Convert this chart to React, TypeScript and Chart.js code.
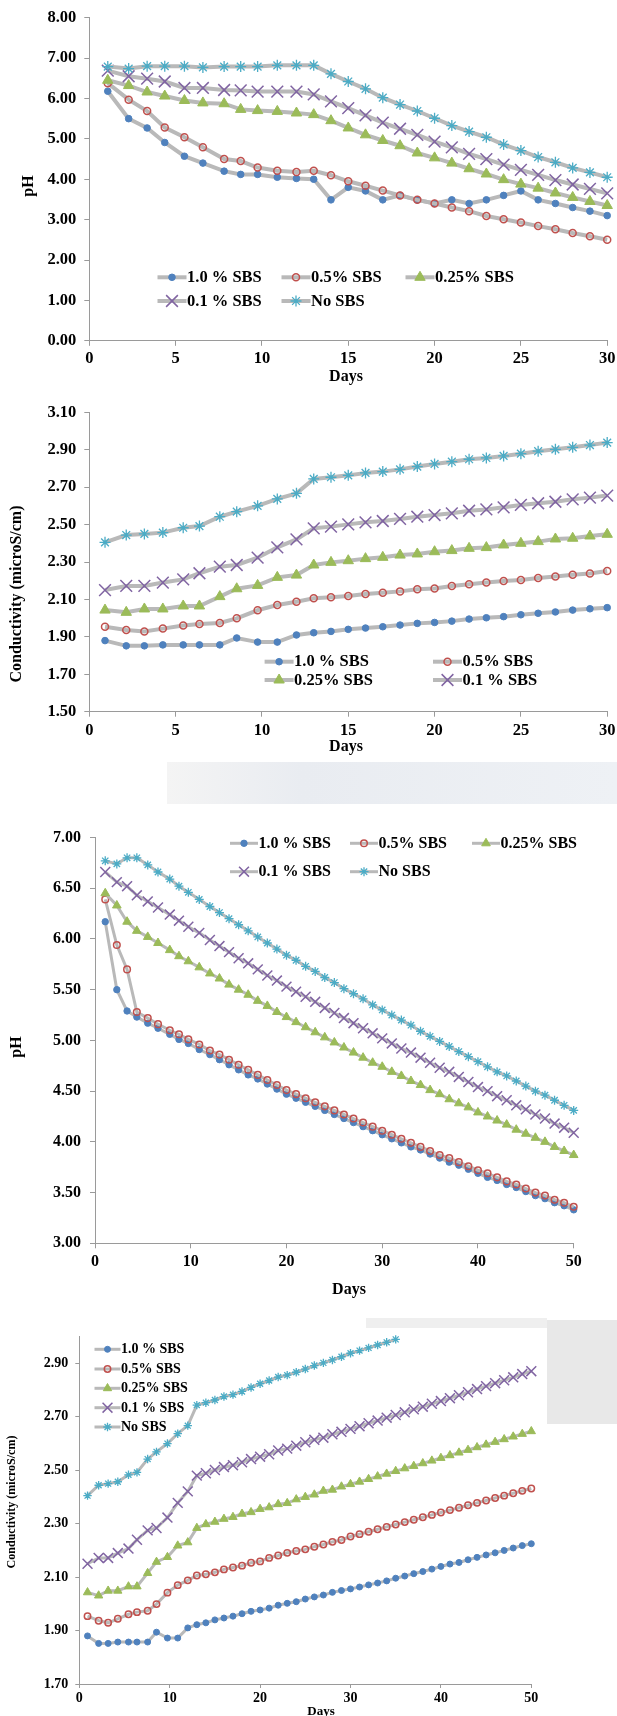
import React, { useEffect, useRef } from 'react';
import { Chart, registerables } from 'chart.js';
import { drawPoint } from 'chart.js/helpers';

Chart.register(...registerables);

const FAMILY = "'Liberation Serif', 'Times New Roman', Times, serif";
const SERIES_NAMES = ['1.0 % SBS', '0.5% SBS', '0.25% SBS', '0.1 % SBS', 'No SBS'];

// ---------- Chart 1: pH over 30 days ----------
const PH30_DAYS = [1.07, 2.28, 3.35, 4.37, 5.51, 6.58, 7.81, 8.77, 9.75, 10.89, 12, 13, 14, 15, 16, 17, 18, 19, 20, 21, 22, 23, 24, 25, 26, 27, 28, 29, 30];
const PH30_SBS_10 = [6.18, 5.5, 5.27, 4.91, 4.57, 4.4, 4.2, 4.12, 4.12, 4.05, 4.02, 4.0, 3.49, 3.8, 3.71, 3.49, 3.6, 3.49, 3.4, 3.49, 3.4, 3.49, 3.6, 3.71, 3.49, 3.4, 3.3, 3.21, 3.1];
const PH30_SBS_05 = [6.38, 5.97, 5.69, 5.28, 5.04, 4.79, 4.5, 4.45, 4.29, 4.21, 4.18, 4.21, 4.1, 3.95, 3.84, 3.72, 3.6, 3.49, 3.4, 3.3, 3.21, 3.09, 3.01, 2.93, 2.84, 2.76, 2.67, 2.59, 2.5];
const PH30_SBS_025 = [6.45, 6.32, 6.16, 6.06, 5.95, 5.89, 5.87, 5.73, 5.7, 5.68, 5.64, 5.6, 5.45, 5.27, 5.1, 4.96, 4.83, 4.65, 4.53, 4.4, 4.26, 4.13, 3.99, 3.88, 3.78, 3.66, 3.55, 3.45, 3.35];
const PH30_SBS_01 = [6.69, 6.55, 6.49, 6.42, 6.26, 6.26, 6.21, 6.2, 6.17, 6.17, 6.17, 6.1, 5.93, 5.76, 5.58, 5.4, 5.25, 5.1, 4.93, 4.79, 4.63, 4.5, 4.36, 4.23, 4.11, 3.98, 3.87, 3.76, 3.65];
const PH30_NO_SBS = [6.79, 6.74, 6.8, 6.8, 6.8, 6.77, 6.79, 6.79, 6.79, 6.82, 6.82, 6.82, 6.61, 6.42, 6.24, 6.02, 5.85, 5.69, 5.51, 5.33, 5.18, 5.04, 4.86, 4.71, 4.55, 4.42, 4.28, 4.17, 4.05];
const PH30_Y_TICKS = [0, 1, 2, 3, 4, 5, 6, 7, 8];
const DAYS30_TICKS = [0, 5, 10, 15, 20, 25, 30];

// ---------- Chart 2: conductivity over 30 days ----------
const COND30_DAYS = [0.91, 2.14, 3.19, 4.26, 5.44, 6.38, 7.56, 8.54, 9.75, 10.89, 12, 13, 14, 15, 16, 17, 18, 19, 20, 21, 22, 23, 24, 25, 26, 27, 28, 29, 30];
const COND30_SBS_10 = [1.88, 1.852, 1.852, 1.857, 1.857, 1.857, 1.857, 1.894, 1.872, 1.872, 1.91, 1.922, 1.929, 1.94, 1.947, 1.954, 1.963, 1.972, 1.977, 1.984, 1.995, 2.002, 2.008, 2.018, 2.026, 2.033, 2.043, 2.05, 2.056];
const COND30_SBS_05 = [1.954, 1.937, 1.929, 1.944, 1.961, 1.969, 1.974, 1.999, 2.042, 2.07, 2.088, 2.106, 2.111, 2.118, 2.129, 2.136, 2.143, 2.154, 2.159, 2.172, 2.181, 2.191, 2.198, 2.204, 2.214, 2.222, 2.232, 2.239, 2.252];
const COND30_SBS_025 = [2.043, 2.031, 2.049, 2.049, 2.065, 2.065, 2.115, 2.157, 2.175, 2.218, 2.23, 2.284, 2.298, 2.307, 2.318, 2.325, 2.337, 2.343, 2.355, 2.361, 2.373, 2.377, 2.391, 2.4, 2.409, 2.423, 2.427, 2.439, 2.448];
const COND30_SBS_01 = [2.15, 2.172, 2.172, 2.19, 2.207, 2.24, 2.275, 2.284, 2.323, 2.378, 2.421, 2.48, 2.489, 2.501, 2.512, 2.519, 2.53, 2.542, 2.551, 2.56, 2.574, 2.581, 2.592, 2.605, 2.614, 2.622, 2.635, 2.644, 2.655];
const COND30_NO_SBS = [2.405, 2.444, 2.45, 2.457, 2.483, 2.492, 2.542, 2.569, 2.6, 2.637, 2.667, 2.744, 2.753, 2.763, 2.776, 2.783, 2.795, 2.81, 2.824, 2.836, 2.849, 2.856, 2.867, 2.879, 2.892, 2.902, 2.913, 2.925, 2.938];
const COND30_Y_TICKS = [1.5, 1.7, 1.9, 2.1, 2.3, 2.5, 2.7, 2.9, 3.1];

// ---------- Chart 3: pH over 50 days ----------
const PH50_DAYS = [1.07, 2.28, 3.35, 4.37, 5.51, 6.58, 7.81, 8.77, 9.75, 10.89, 12, 13, 14, 15, 16, 17, 18, 19, 20, 21, 22, 23, 24, 25, 26, 27, 28, 29, 30, 31, 32, 33, 34, 35, 36, 37, 38, 39, 40, 41, 42, 43, 44, 45, 46, 47, 48, 49, 50];
const PH50_SBS_10 = [6.17, 5.5, 5.29, 5.23, 5.17, 5.12, 5.06, 5.01, 4.97, 4.91, 4.86, 4.81, 4.76, 4.71, 4.66, 4.62, 4.57, 4.52, 4.47, 4.43, 4.39, 4.35, 4.31, 4.27, 4.23, 4.19, 4.15, 4.11, 4.07, 4.03, 3.99, 3.95, 3.92, 3.88, 3.84, 3.8, 3.77, 3.73, 3.69, 3.65, 3.62, 3.58, 3.55, 3.51, 3.47, 3.44, 3.4, 3.37, 3.33];
const PH50_SBS_05 = [6.39, 5.94, 5.7, 5.28, 5.22, 5.16, 5.1, 5.06, 5.01, 4.96, 4.9, 4.86, 4.81, 4.76, 4.71, 4.66, 4.61, 4.56, 4.51, 4.47, 4.43, 4.39, 4.35, 4.31, 4.27, 4.23, 4.19, 4.15, 4.11, 4.07, 4.03, 3.99, 3.95, 3.91, 3.87, 3.84, 3.8, 3.76, 3.72, 3.69, 3.65, 3.61, 3.58, 3.54, 3.5, 3.47, 3.43, 3.4, 3.36];
const PH50_SBS_025 = [6.45, 6.33, 6.17, 6.08, 6.02, 5.96, 5.89, 5.83, 5.78, 5.72, 5.66, 5.61, 5.55, 5.5, 5.45, 5.39, 5.34, 5.28, 5.23, 5.18, 5.13, 5.08, 5.03, 4.98, 4.93, 4.88, 4.83, 4.78, 4.74, 4.69, 4.65, 4.6, 4.56, 4.51, 4.47, 4.42, 4.38, 4.34, 4.29, 4.25, 4.21, 4.17, 4.12, 4.08, 4.04, 4.0, 3.95, 3.91, 3.87];
const PH50_SBS_01 = [6.66, 6.56, 6.52, 6.43, 6.37, 6.31, 6.24, 6.18, 6.12, 6.06, 5.99, 5.93, 5.87, 5.81, 5.76, 5.7, 5.64, 5.59, 5.53, 5.48, 5.43, 5.38, 5.32, 5.27, 5.22, 5.17, 5.12, 5.07, 5.02, 4.97, 4.92, 4.88, 4.83, 4.78, 4.73, 4.69, 4.64, 4.59, 4.54, 4.5, 4.45, 4.41, 4.36, 4.32, 4.27, 4.23, 4.18, 4.14, 4.09];
const PH50_NO_SBS = [6.77, 6.74, 6.8, 6.8, 6.73, 6.66, 6.59, 6.52, 6.46, 6.39, 6.32, 6.26, 6.2, 6.14, 6.08, 6.02, 5.96, 5.9, 5.84, 5.79, 5.73, 5.68, 5.62, 5.57, 5.51, 5.46, 5.41, 5.35, 5.3, 5.25, 5.2, 5.15, 5.09, 5.04, 4.99, 4.94, 4.89, 4.84, 4.79, 4.74, 4.69, 4.65, 4.6, 4.55, 4.5, 4.46, 4.41, 4.36, 4.31];
const PH50_Y_TICKS = [3, 3.5, 4, 4.5, 5, 5.5, 6, 6.5, 7];
const DAYS50_TICKS = [0, 10, 20, 30, 40, 50];

// ---------- Chart 4: conductivity over 50 days ----------
const COND50_DAYS = [0.91, 2.14, 3.19, 4.26, 5.44, 6.38, 7.56, 8.54, 9.75, 10.89, 12, 13, 14, 15, 16, 17, 18, 19, 20, 21, 22, 23, 24, 25, 26, 27, 28, 29, 30, 31, 32, 33, 34, 35, 36, 37, 38, 39, 40, 41, 42, 43, 44, 45, 46, 47, 48, 49, 50];
const COND50_SBS_10 = [...COND30_SBS_10, 2.063, 2.071, 2.078, 2.086, 2.096, 2.104, 2.113, 2.121, 2.13, 2.14, 2.149, 2.155, 2.165, 2.174, 2.183, 2.191, 2.2, 2.209, 2.218, 2.225];
const COND50_SBS_05 = [...COND30_SBS_05, 2.261, 2.27, 2.279, 2.288, 2.297, 2.306, 2.315, 2.324, 2.333, 2.342, 2.351, 2.36, 2.369, 2.378, 2.387, 2.396, 2.405, 2.414, 2.423, 2.432];
const COND50_SBS_025 = [...COND30_SBS_025, 2.457, 2.467, 2.477, 2.487, 2.497, 2.507, 2.516, 2.526, 2.536, 2.546, 2.556, 2.566, 2.576, 2.586, 2.596, 2.606, 2.616, 2.626, 2.636, 2.646];
const COND50_SBS_01 = [...COND30_SBS_01, 2.665, 2.676, 2.686, 2.697, 2.707, 2.717, 2.728, 2.738, 2.749, 2.759, 2.77, 2.781, 2.792, 2.804, 2.815, 2.826, 2.837, 2.848, 2.86, 2.871];
const COND50_NO_SBS = [...COND30_NO_SBS, 2.948, 2.958, 2.969, 2.979, 2.99];
const COND50_Y_TICKS = [1.7, 1.9, 2.1, 2.3, 2.5, 2.7, 2.9];

// ---------- styling ----------
const LINE_GRAY = '#b9b9b9';
const AXIS_GRAY = '#9a9a9a';
const MARKERS = [
  { style: 'circle', fill: '#4f81bd', stroke: '#4f81bd', bw: 1 },
  { style: 'circle', fill: 'rgba(255,255,255,0)', stroke: '#c0504d', bw: 1.5 },
  { style: 'triangle', fill: '#9bbb59', stroke: '#9bbb59', bw: 1 },
  { style: 'crossRot', fill: '#8064a2', stroke: '#8064a2', bw: 1.5 },
  { style: 'star', fill: '#4bacc6', stroke: '#4bacc6', bw: 1.3 },
];

type Item = { i: number; x: number; y: number };
type Spec = {
  top: number; height: number;
  area: { l: number; t: number; r: number; b: number };
  xMin: number; xMax: number; xTicks: number[];
  yMin: number; yMax: number; yTicks: number[];
  series: { xs: number[]; ys: number[] }[];
  lineWidth: number; radii: number[];
  tickSize: number; yTickLen: number; yTickPad: number; xTickLen: number; xTickPad: number;
  yTitle: { text: string; x: number; y: number; size: number };
  xTitle: { text: string; x: number; y: number; size: number };
  legend: { size: number; len: number; items: Item[] };
};

const SPECS: Spec[] = [
  {
    top: 0, height: 392,
    area: { l: 89.3, t: 17.7, r: 609.3, b: 340.8 },
    xMin: 0, xMax: 30, xTicks: DAYS30_TICKS, yMin: 0, yMax: 8, yTicks: PH30_Y_TICKS,
    series: [PH30_SBS_10, PH30_SBS_05, PH30_SBS_025, PH30_SBS_01, PH30_NO_SBS].map((ys) => ({ xs: PH30_DAYS, ys })),
    lineWidth: 4, radii: [3.3, 3.5, 6, 8.3, 5.5],
    tickSize: 16.5, yTickLen: 5, yTickPad: 8, xTickLen: 5, xTickPad: 5,
    yTitle: { text: 'pH', x: 29, y: 186, size: 16 },
    xTitle: { text: 'Days', x: 346, y: 377, size: 16 },
    legend: { size: 16.5, len: 29, items: [
      { i: 0, x: 157.5, y: 277.3 }, { i: 1, x: 281.5, y: 277.3 }, { i: 2, x: 405.5, y: 277.3 },
      { i: 3, x: 157.5, y: 301 }, { i: 4, x: 281.5, y: 301 },
    ] },
  },
  {
    top: 392, height: 408,
    area: { l: 89.3, t: 412.3, r: 609.3, b: 711.7 },
    xMin: 0, xMax: 30, xTicks: DAYS30_TICKS, yMin: 1.5, yMax: 3.1, yTicks: COND30_Y_TICKS,
    series: [COND30_SBS_10, COND30_SBS_05, COND30_SBS_025, COND30_SBS_01, COND30_NO_SBS].map((ys) => ({ xs: COND30_DAYS, ys })),
    lineWidth: 4, radii: [3.3, 3.5, 6, 8.3, 5.5],
    tickSize: 16.5, yTickLen: 5, yTickPad: 8, xTickLen: 5, xTickPad: 5.5,
    yTitle: { text: 'Conductivity (microS/cm)', x: 17, y: 594, size: 16 },
    xTitle: { text: 'Days', x: 346, y: 747, size: 16 },
    legend: { size: 16.5, len: 29, items: [
      { i: 0, x: 264.6, y: 661.7 }, { i: 1, x: 433, y: 661.7 },
      { i: 2, x: 264.6, y: 680 }, { i: 3, x: 433, y: 680 },
    ] },
  },
  {
    top: 800, height: 500,
    area: { l: 95, t: 837.5, r: 573.7, b: 1243.3 },
    xMin: 0, xMax: 50, xTicks: DAYS50_TICKS, yMin: 3, yMax: 7, yTicks: PH50_Y_TICKS,
    series: [PH50_SBS_10, PH50_SBS_05, PH50_SBS_025, PH50_SBS_01, PH50_NO_SBS].map((ys) => ({ xs: PH50_DAYS, ys })),
    lineWidth: 3, radii: [3.2, 3.3, 5, 7, 4.5],
    tickSize: 16, yTickLen: 5, yTickPad: 9, xTickLen: 5, xTickPad: 5.4,
    yTitle: { text: 'pH', x: 17, y: 1047, size: 16 },
    xTitle: { text: 'Days', x: 349, y: 1290, size: 16 },
    legend: { size: 16, len: 28, items: [
      { i: 0, x: 230, y: 843.3 }, { i: 1, x: 350, y: 843.3 }, { i: 2, x: 472, y: 843.3 },
      { i: 3, x: 230, y: 871.7 }, { i: 4, x: 350, y: 871.7 },
    ] },
  },
  {
    top: 1300, height: 416,
    area: { l: 79.3, t: 1336.7, r: 531.3, b: 1684 },
    xMin: 0, xMax: 50, xTicks: DAYS50_TICKS, yMin: 1.7, yMax: 3.0, yTicks: COND50_Y_TICKS,
    series: [COND50_SBS_10, COND50_SBS_05, COND50_SBS_025, COND50_SBS_01, COND50_NO_SBS].map((ys) => ({ xs: COND50_DAYS, ys })),
    lineWidth: 3, radii: [3, 3.2, 4.8, 7, 4.2],
    tickSize: 14, yTickLen: 4, yTickPad: 7, xTickLen: 4, xTickPad: 3,
    yTitle: { text: 'Conductivity (microS/cm)', x: 12, y: 1502, size: 12 },
    xTitle: { text: 'Days', x: 321, y: 1712, size: 13 },
    legend: { size: 14, len: 26, items: [
      { i: 0, x: 94.5, y: 1349.3 }, { i: 1, x: 94.5, y: 1369 }, { i: 2, x: 94.5, y: 1388.3 },
      { i: 3, x: 94.5, y: 1407.7 }, { i: 4, x: 94.5, y: 1427 },
    ] },
  },
];

function makeOverlay(s: Spec) {
  return {
    id: 'overlay',
    afterDraw(chart: any) {
      const ctx = chart.ctx as CanvasRenderingContext2D;
      ctx.save();
      // axis titles
      ctx.fillStyle = '#000';
      ctx.textAlign = 'center';
      ctx.textBaseline = 'middle';
      ctx.font = `bold ${s.yTitle.size}px ${FAMILY}`;
      ctx.save();
      ctx.translate(s.yTitle.x, s.yTitle.y - s.top);
      ctx.rotate(-Math.PI / 2);
      ctx.fillText(s.yTitle.text, 0, 0);
      ctx.restore();
      ctx.font = `bold ${s.xTitle.size}px ${FAMILY}`;
      ctx.fillText(s.xTitle.text, s.xTitle.x, s.xTitle.y - s.top);
      // legend
      ctx.font = `bold ${s.legend.size}px ${FAMILY}`;
      ctx.textAlign = 'left';
      for (const it of s.legend.items) {
        const ds = chart.data.datasets[it.i];
        const y = it.y - s.top;
        ctx.strokeStyle = LINE_GRAY;
        ctx.lineWidth = s.lineWidth;
        ctx.beginPath();
        ctx.moveTo(it.x, y);
        ctx.lineTo(it.x + s.legend.len, y);
        ctx.stroke();
        ctx.fillStyle = ds.pointBackgroundColor;
        ctx.strokeStyle = ds.pointBorderColor;
        ctx.lineWidth = ds.pointBorderWidth;
        drawPoint(ctx, { pointStyle: ds.pointStyle, radius: ds.pointRadius, rotation: 0, borderWidth: ds.pointBorderWidth } as any, it.x + s.legend.len / 2, y);
        ctx.fillStyle = '#000';
        ctx.fillText(SERIES_NAMES[it.i], it.x + s.legend.len + 0.5, y + 0.5);
      }
      ctx.restore();
    },
  };
}

function buildConfig(s: Spec): any {
  const localBottom = s.area.b - s.top;
  const tickFont = { family: FAMILY, size: s.tickSize, weight: 'bold' as const, lineHeight: 1 };
  return {
    type: 'line',
    data: {
      datasets: s.series.map((ser, i) => ({
        label: SERIES_NAMES[i],
        data: ser.ys.map((y, j) => ({ x: ser.xs[j], y })),
        borderColor: LINE_GRAY,
        borderWidth: s.lineWidth,
        tension: 0,
        fill: false,
        pointStyle: MARKERS[i].style,
        pointRadius: s.radii[i],
        pointBackgroundColor: MARKERS[i].fill,
        pointBorderColor: MARKERS[i].stroke,
        pointBorderWidth: MARKERS[i].bw,
        order: 10 - i,
        clip: false,
      })),
    },
    options: {
      responsive: false,
      animation: false,
      devicePixelRatio: 1,
      events: [],
      layout: { padding: { left: 0, top: s.area.t - s.top, right: 617 - s.area.r, bottom: 0 } },
      plugins: { legend: { display: false }, tooltip: { enabled: false } },
      scales: {
        x: {
          type: 'linear',
          min: s.xMin,
          max: s.xMax,
          afterBuildTicks: (sc: any) => { sc.ticks = s.xTicks.map((v) => ({ value: v })); },
          afterFit: (sc: any) => { sc.height = s.height - localBottom; sc.paddingLeft = 0; sc.paddingRight = 0; },
          ticks: { autoSkip: false, maxRotation: 0, color: '#000', font: tickFont, padding: s.xTickPad, callback: (v: any) => String(v) },
          grid: { display: true, drawOnChartArea: false, drawTicks: true, tickLength: s.xTickLen, color: AXIS_GRAY, lineWidth: 1 },
          border: { display: true, color: AXIS_GRAY, width: 1 },
          title: { display: false },
        },
        y: {
          type: 'linear',
          min: s.yMin,
          max: s.yMax,
          afterBuildTicks: (sc: any) => { sc.ticks = s.yTicks.map((v) => ({ value: v })); },
          afterFit: (sc: any) => { sc.width = s.area.l; sc.paddingTop = 0; sc.paddingBottom = 0; },
          ticks: { autoSkip: false, color: '#000', font: tickFont, padding: s.yTickPad, callback: (v: any) => Number(v).toFixed(2) },
          grid: { display: true, drawOnChartArea: false, drawTicks: true, tickLength: s.yTickLen, color: AXIS_GRAY, lineWidth: 1 },
          border: { display: true, color: AXIS_GRAY, width: 1 },
          title: { display: false },
        },
      },
    },
    plugins: [makeOverlay(s)],
  };
}

function ChartCanvas({ spec }: { spec: Spec }) {
  const ref = useRef<HTMLCanvasElement>(null);
  useEffect(() => {
    const chart = new Chart(ref.current as HTMLCanvasElement, buildConfig(spec));
    return () => chart.destroy();
  }, [spec]);
  return (
    <canvas
      ref={ref}
      width={617}
      height={spec.height}
      style={{ position: 'absolute', left: 0, top: spec.top, width: 617, height: spec.height, display: 'block' }}
    />
  );
}

export default function App() {
  return (
    <div style={{ position: 'absolute', left: 0, top: 0, width: 617, height: 1716, background: '#fff', overflow: 'hidden' }}>
      <div style={{ position: 'absolute', left: 167, top: 762, width: 450, height: 42, background: 'linear-gradient(to right, #f4f4f4, #e9ecf1 30%, #eef1f5)' }} />
      <div style={{ position: 'absolute', left: 366, top: 1318, width: 181, height: 10, background: '#efefef' }} />
      <div style={{ position: 'absolute', left: 547, top: 1320, width: 70, height: 104, background: '#e8e8e8' }} />
      {SPECS.map((s, i) => (
        <ChartCanvas key={i} spec={s} />
      ))}
    </div>
  );
}
